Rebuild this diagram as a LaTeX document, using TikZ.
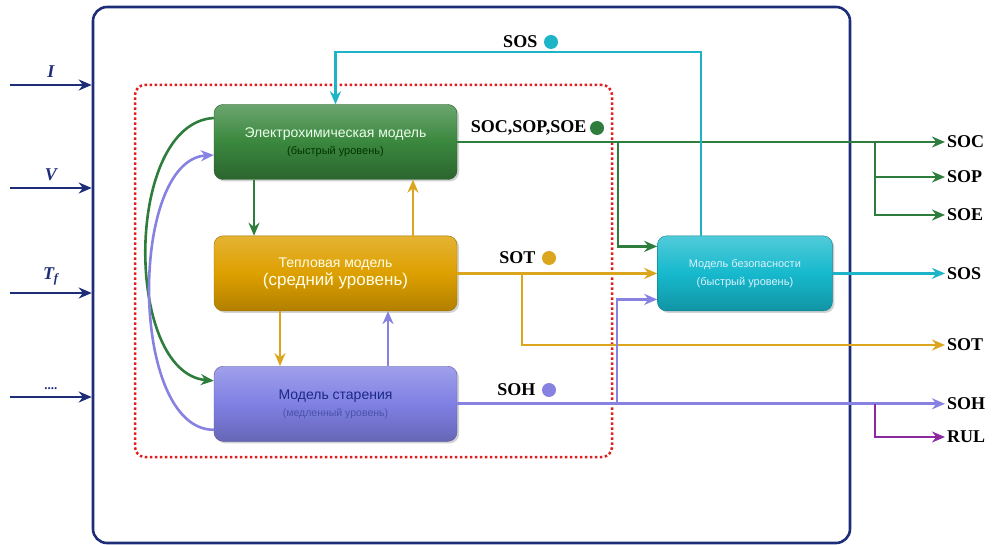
\documentclass[tikz,border=0pt]{standalone}
\usepackage{fontspec}
\setmainfont{Liberation Serif}
\setsansfont{Liberation Sans}
\usepackage{xcolor}
\usepackage{tikz}
\usetikzlibrary{arrows.meta, positioning, shadows}

\definecolor{navy}{RGB}{30,45,120}
\definecolor{echem}{RGB}{58,135,62}
\definecolor{echemline}{RGB}{46,125,60}
\definecolor{therm}{RGB}{222,160,0}
\definecolor{thermline}{RGB}{220,165,30}
\definecolor{aging}{RGB}{128,128,228}
\definecolor{agingline}{RGB}{135,130,225}
\definecolor{safe}{RGB}{22,185,205}
\definecolor{safeline}{RGB}{30,180,200}
\definecolor{rulline}{RGB}{140,40,160}
\definecolor{dotred}{RGB}{225,30,30}

\tikzset{
    model/.style={rectangle, rounded corners=9pt, minimum width=243pt, minimum height=75pt, align=center, font=\sffamily, drop shadow={shadow xshift=2pt, shadow yshift=-2pt, fill=black!35}},
    arrow/.style={line width=2.6pt, -{Stealth[length=13pt, width=11pt]}},
    wire/.style={line width=2.6pt}
}

\begin{document}
\begin{tikzpicture}[
        x=1pt, y=1pt,
        % Define styles
        outlbl/.style={anchor=west, inner sep=2pt, font=\fontsize{18}{20}\selectfont\bfseries},
        inlbl/.style={above=3pt, font=\fontsize{18}{20}\selectfont\bfseries\itshape},
        statlbl/.style={font=\fontsize{18}{20}\selectfont\bfseries},
        dot/.style={circle, inner sep=0pt, minimum size=14pt}
    ]
        \useasboundingbox (0,0) rectangle (994,-545);

        % --- Frames ---
        \node (frame) [draw=navy, line width=2.6pt, rounded corners=14pt, minimum width=757pt, minimum height=536pt] at (471.5,-275) {};
        \node (core) [draw=dotred, line width=2.5pt, dash pattern=on 2.5pt off 2.5pt, rounded corners=10pt, minimum width=477pt, minimum height=372pt] at (373.5,-271) {};

        % --- Models ---
        \node (electro) [model, top color=echem!75!white, bottom color=echem!75!black, middle color=echem, draw=echem!70!black] at (335.5,-142)
            {\color{white!92!green}\fontsize{14}{17}\selectfont Электрохимическая модель\\[5pt]
             \color{black!80!green}\fontsize{11}{13}\selectfont (быстрый уровень)};
        \node (thermal) [model, below=56pt of electro, top color=therm!80!white, bottom color=therm!80!black, middle color=therm, draw=therm!70!black]
            {\color{white!90!yellow}\fontsize{14}{17}\selectfont Тепловая модель\\[2pt]
             \color{white!90!yellow}\fontsize{17}{19}\selectfont (средний уровень)};
        \node (aging) [model, below=55pt of thermal, top color=aging!75!white, bottom color=aging!80!black, middle color=aging, draw=aging!70!black]
            {\color{navy!90!blue}\fontsize{14}{17}\selectfont Модель старения\\[5pt]
             \color{navy!55!aging}\fontsize{10.5}{12}\selectfont (медленный уровень)};
        \node (safety) [model, minimum width=175pt, right=200pt of thermal, top color=safe!75!white, bottom color=safe!80!black, middle color=safe, draw=safe!70!black]
            {\color{white!85!cyan}\fontsize{11}{13}\selectfont Модель безопасности\\[6pt]
             \color{white!85!cyan}\fontsize{11}{13}\selectfont (быстрый уровень)};

        % --- Inputs ---
        \coordinate (inI) at (10,-85);
        \coordinate (inV) at (10,-188);
        \coordinate (inT) at (10,-293);
        \coordinate (inX) at (10,-397);
        \draw [arrow, navy] (inI) -- node[inlbl] {I} (inI -| frame.west);
        \draw [arrow, navy] (inV) -- node[inlbl] {V} (inV -| frame.west);
        \draw [arrow, navy] (inT) -- node[inlbl] {T\textsubscript{f}} (inT -| frame.west);
        \draw [arrow, navy] (inX) -- node[above=3pt, font=\fontsize{13}{15}\selectfont\bfseries] {....} (inX -| frame.west);

        % --- Outputs ---
        \node (soc) [outlbl] at (945,0 |- electro.east) {SOC};
        \node (sop) [outlbl] at (945,-177) {SOP};
        \node (soe) [outlbl] at (945,-215) {SOE};
        \node (sos) [outlbl] at (945,0 |- safety.east) {SOS};
        \node (sot) [outlbl] at (945,-345) {SOT};
        \node (soh) [outlbl] at (945,0 |- aging.east) {SOH};
        \node (rul) [outlbl] at (945,-437) {RUL};

        % --- Links between models ---
        \draw [arrow, echemline] ([xshift=-81.5pt]electro.south) -- ([xshift=-81.5pt]thermal.north);
        \draw [arrow, thermline] ([xshift=77.5pt]thermal.north) -- ([xshift=77.5pt]electro.south);
        \draw [arrow, thermline] ([xshift=-55.5pt]thermal.south) -- ([xshift=-55.5pt]aging.north);
        \draw [arrow, agingline] ([xshift=52.5pt]aging.north) -- ([xshift=52.5pt]thermal.south);
        \draw [arrow, echemline] ([yshift=24pt]electro.west) .. controls +(-90pt,-5pt) and +(-90pt,8pt) .. ([yshift=23pt]aging.west);
        \draw [arrow, agingline] ([yshift=-26pt]aging.west) .. controls +(-85pt,0pt) and +(-85pt,-5pt) .. ([yshift=-13pt]electro.west);

        % --- Electrochemical outputs ---
        \node (socdot) [dot, fill=echemline] at (597,-128) {};
        \node [statlbl, left=0pt of socdot] {SOC,SOP,SOE};
        \draw [arrow, echemline] (electro.east) -- (soc.west);
        \coordinate (echbr) at (875,0 |- electro.east);
        \draw [arrow, echemline] (echbr) |- (sop.west);
        \draw [arrow, echemline] (echbr) |- (soe.west);
        \draw [arrow, echemline] (618,0 |- electro.east) |- ([yshift=27pt]safety.west);

        % --- Thermal outputs ---
        \node (sotdot) [dot, fill=thermline] at (549,-258) {};
        \node [statlbl, left=3pt of sotdot] {SOT};
        \draw [arrow, thermline] (thermal.east) -- (safety.west);
        \draw [arrow, thermline] (522,0 |- thermal.east) |- (sot.west);

        % --- Aging outputs ---
        \node (sohdot) [dot, fill=agingline] at (549,-390) {};
        \node [statlbl, left=3pt of sohdot] {SOH};
        \draw [arrow, agingline] (aging.east) -- (soh.west);
        \draw [arrow, agingline] (617,0 |- aging.east) |- ([yshift=-26pt]safety.west);
        \draw [arrow, rulline] (875,0 |- aging.east) |- (rul.west);

        % --- Safety outputs ---
        \node (sosdot) [dot, fill=safeline] at (551,-42) {};
        \node [statlbl, left=3pt of sosdot] {SOS};
        \draw [arrow, safeline] (safety.east) -- (sos.west);
        \draw [arrow, safeline] ([xshift=-44pt]safety.north) |- (335.5,-52) -- (electro.north);

    \end{tikzpicture}
\end{document}
